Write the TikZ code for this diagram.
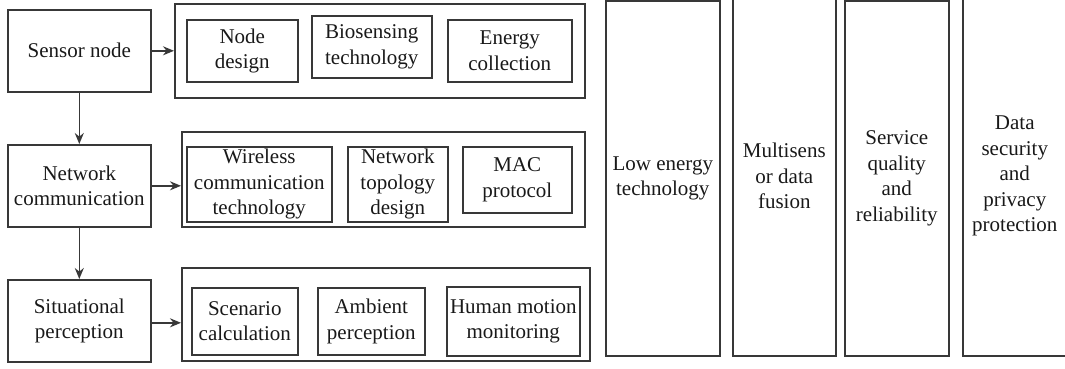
\documentclass[tikz,border=0pt]{standalone}
\usepackage{fontspec}
\setmainfont{Liberation Serif}
\newfontfamily\labelface{Liberation Serif}
\usetikzlibrary{arrows.meta}
\definecolor{edge}{HTML}{383838}
\tikzset{
  x=1pt, y=-1pt,
  box/.style={draw=edge, line width=1.6pt, inner sep=0pt, align=center,
              anchor=north west, text=black!90,
              font=\labelface\fontsize{21}{25.5}\selectfont},
  frame/.style={box},
  col/.style={box},
  sz/.style 2 args={minimum width=#1pt, minimum height=#2pt},
  link/.style={draw=edge, line width=1.6pt, -{Stealth[length=11pt,width=9pt]}},
}
\begin{document}
\begin{tikzpicture}
\useasboundingbox (0,0) rectangle (1065,368);
\clip (0,0) rectangle (1065,368);

% left-hand process chain
\node[box, sz={143}{82}] (sensor) at (7,9) {Sensor node};
\node[box, sz={143}{82}] (net) at (7,144) {Network\\communication};
\node[box, sz={143}{82}] (sit) at (7,279) {Situational\\perception};

% sensor node group
\node[frame, sz={410}{94}] (g1) at (174,3) {};
\node[box, sz={111}{62}] (nd) at (186,19) {Node\\design};
\node[box, sz={120}{62}] (bio) at (311,15) {Biosensing\\technology};
\node[box, sz={124}{62}] (en) at (447,19) {Energy\\collection};

% network communication group
\node[frame, sz={403}{95}] (g2) at (181,131) {};
\node[box, sz={145}{75}] (wl) at (186,146) {Wireless\\communication\\technology};
\node[box, sz={100}{75}] (topo) at (347,146) {Network\\topology\\design};
\node[box, sz={109}{66}] (mac) at (462,146) {MAC\\protocol};

% situational perception group
\node[frame, sz={408}{93}] (g3) at (181,267) {};
\node[box, sz={106}{67}] (scen) at (191,287) {Scenario\\calculation};
\node[box, sz={107}{67}] (amb) at (317,287) {Ambient\\perception};
\node[box, sz={133}{69}] (hum) at (446,286) {Human motion\\monitoring};

% supporting technology columns
\node[col, sz={114}{355}] (c1) at (605,0) {Low energy\\technology};
\node[col, sz={103}{359}] (c2) at (732,-4) {Multisens\\or data\\fusion};
\node[col, sz={104}{355}] (c3) at (844,0) {Service\\quality\\and\\reliability};
\node[col, sz={104}{359}] (c4) at (962,-4) {Data\\security\\and\\privacy\\protection};

% connectors
\draw[link] (sensor.south) -- (net.north);
\draw[link] (net.south) -- (sit.north);
\draw[link] (sensor.east) -- (sensor.east -| g1.west);
\draw[link] (net.east) -- (net.east -| g2.west);
\draw[link] ([yshift=-2pt]sit.east) -- ([yshift=-2pt]sit.east -| g3.west);
\end{tikzpicture}
\end{document}
